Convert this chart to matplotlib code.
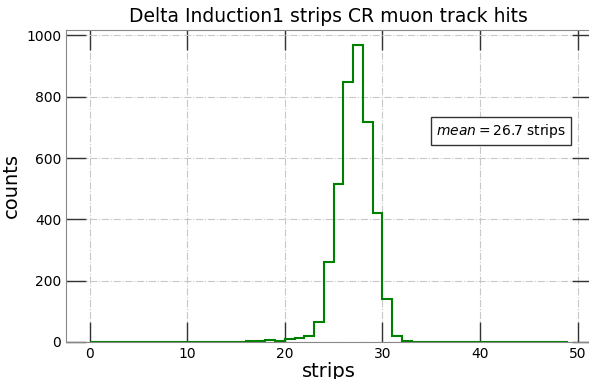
import numpy as np
import matplotlib
matplotlib.use("Agg")
import matplotlib.pyplot as plt

# hit counts per strip offset (bins of width 1, strips 0..48)
strip_edges = np.arange(0, 50)
counts = np.zeros(49)
counts[10:34] = [1, 1, 0, 1, 0, 0, 2, 3, 7, 2, 9, 12, 18, 65,
                 260, 515, 848, 970, 718, 422, 141, 20, 4, 1]
mean_strips = 26.7

fig = plt.figure(figsize=(5.89, 3.79), dpi=100)
# right spine sits just past the figure edge
ax = fig.add_axes([0.112, 0.098, 0.8925, 0.823])

ax.hist(strip_edges[:-1], bins=strip_edges, weights=counts,
        histtype="step", color="green", linewidth=1.5)

ax.set_xlim(-2.45, 51.45)
ax.set_ylim(0, 1018)
ax.set_xticks([0, 10, 20, 30, 40, 50])
ax.set_yticks([0, 200, 400, 600, 800, 1000])
ax.tick_params(direction="in", length=14.5, width=1, top=True, right=True,
               labelsize=10, color="#333333")
for s in ax.spines.values():
    s.set_color("#888888")
ax.grid(True, linestyle="-.", color="#c8c8c8", linewidth=0.8)

ax.set_title("Delta Induction1 strips CR muon track hits", fontsize=13.5)
ax.set_xlabel("strips", fontsize=14, labelpad=1)
ax.set_ylabel("counts", fontsize=14)

ax.text(0.827, 0.676, r"$mean = $" + f"{mean_strips:.1f} strips",
        transform=ax.transAxes, ha="center", va="center", fontsize=10,
        bbox=dict(boxstyle="square,pad=0.35", facecolor="white", edgecolor="#333333"))

fig.savefig("out.png", dpi=100)
